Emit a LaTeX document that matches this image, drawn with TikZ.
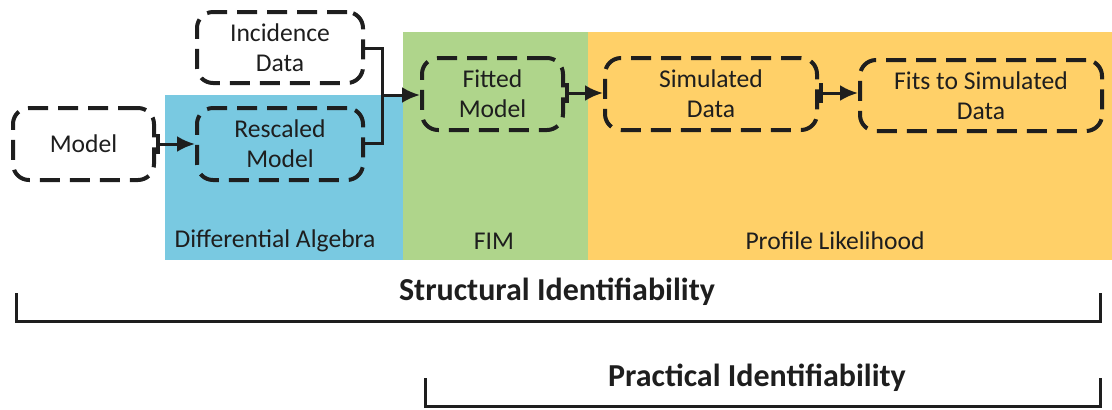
\documentclass[tikz,border=0pt]{standalone}
\usepackage{fontspec}
\setmainfont{Carlito}
\usetikzlibrary{arrows.meta}
\definecolor{dablue}{RGB}{121,201,225}
\definecolor{fimgreen}{RGB}{175,213,139}
\definecolor{plorange}{RGB}{255,208,104}
\definecolor{inkc}{RGB}{30,30,30}
\tikzset{
  dbox/.style={draw=inkc, line width=2pt, dash pattern=on 10pt off 5pt, rounded corners=8pt,
    align=center, font=\fontsize{12.8}{15}\selectfont, text=inkc, inner sep=0pt},
  conn/.style={draw=inkc, line width=1.5pt},
  arr/.style={conn, -{Latex[length=9pt,width=8pt]}},
  barr/.style={conn, {Bar[width=10pt,line width=2pt]}-{Latex[length=9pt,width=8pt]}},
  region/.style={font=\fontsize{12.8}{15}\selectfont, text=inkc},
  brk/.style={draw=inkc, line width=1.5pt},
  btitle/.style={font=\fontsize{16}{19}\selectfont\bfseries, text=inkc}
}
\begin{document}
\begin{tikzpicture}[x=0.5pt,y=-0.5pt]
\useasboundingbox (0,0) rectangle (1112,409);
% background regions
\fill[dablue] (165,95) rectangle (403,260);
\fill[fimgreen] (403,32) rectangle (588,260);
\fill[plorange] (588,32) rectangle (1112,260);
\node[region] (lda) at (275,241) {Differential Algebra};
\node[region] (lfim) at (494,241) {FIM};
\node[region] (lpl) at (835,241) {Profile Likelihood};
% boxes
\node[dbox, minimum width=70.5pt, minimum height=36pt] (model) at (83.5,144) {Model};
\node[dbox, minimum width=83pt, minimum height=35.5pt] (incid) at (280,47.5) {Incidence\\Data};
\node[dbox, minimum width=83pt, minimum height=36pt] (resc) at (280,144) {Rescaled\\Model};
\node[dbox, minimum width=70.5pt, minimum height=36pt] (fitted) at (492.5,94) {Fitted\\Model};
\node[dbox, minimum width=106pt, minimum height=36pt] (sim) at (711,94) {Simulated\\Data};
\node[dbox, minimum width=121pt, minimum height=35.5pt] (fits) at (981,95.5) {Fits to Simulated\\Data};
% connectors
\coordinate (j) at (382,95);
\draw[barr] (model.east) -- (resc.west);
\draw[conn] (incid.east |- 0,48) -- (382,48) -- (382,143) -- (resc.east |- 0,143);
\draw[arr] (j) -- (fitted.west |- j);
\draw[barr] (fitted.east |- 0,93) -- (sim.west |- 0,93);
\draw[barr] (sim.east |- 0,93) -- (fits.west |- 0,93);
% brackets
\node[btitle] (st) at (557,292) {Structural Identifiability};
\node[btitle] (pt) at (757,378) {Practical Identifiability};
\draw[brk] (16,293) -- (16,321) -- (1100,321) -- (1100,293);
\draw[brk] (425,378) -- (425,406) -- (1100,406) -- (1100,378);
\end{tikzpicture}
\end{document}
